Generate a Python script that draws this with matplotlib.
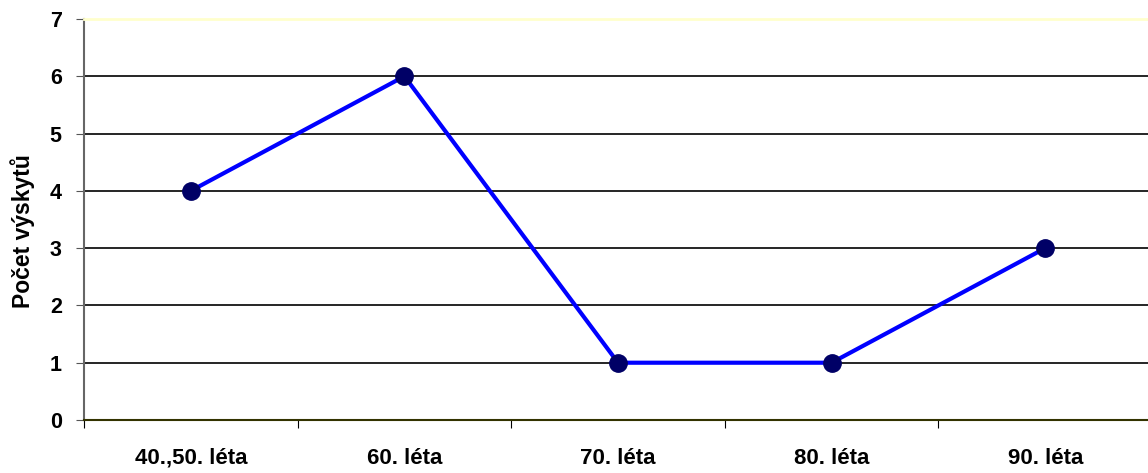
import matplotlib
matplotlib.use("Agg")
import matplotlib.pyplot as plt
import numpy as np

categories = ["40.,50. léta", "60. léta", "70. léta", "80. léta", "90. léta"]
values = [4, 6, 1, 1, 3]
y_ticks = [0, 1, 2, 3, 4, 5, 6, 7]

plt.rcParams['font.family'] = ['Liberation Sans', 'DejaVu Sans']

fig = plt.figure(figsize=(11.48, 4.73), dpi=100)
ax = fig.add_axes([84 / 1148, 1 - 420 / 473, (1152 - 84) / 1148, (420 - 19) / 473])

x = np.arange(len(categories)) + 0.5
ax.plot(x, values, color="#0000FF", lw=3, zorder=3, clip_on=False,
        marker="o", markersize=12.5, markerfacecolor="#000066",
        markeredgecolor="#000066")

ax.set_xlim(0, len(categories))
ax.set_ylim(0, 7)
ax.set_yticks(y_ticks)
ax.set_yticklabels([str(t) for t in y_ticks], fontsize=15.5, fontweight="bold")
ax.set_xticks(np.arange(len(categories) + 1))
ax.set_xticklabels([])
ax.set_xticks(x, minor=True)
ax.set_xticklabels(categories, minor=True, fontsize=16, fontweight="bold")
ax.tick_params(axis="x", which="minor", length=0, pad=20)
ax.tick_params(axis="x", which="major", length=6, direction="out", color="black")
ax.tick_params(axis="y", length=6, direction="out", color="#555555", pad=10)

for t in y_ticks[1:-1]:
    ax.axhline(t, color="black", lw=1.2, zorder=1)

ax.spines["top"].set_color("#FFFFCC")
ax.spines["top"].set_linewidth(2)
ax.spines["right"].set_visible(False)
ax.spines["left"].set_color("#666666")
ax.spines["left"].set_linewidth(1.5)
ax.spines["bottom"].set_color("#333300")
ax.spines["bottom"].set_linewidth(1.5)

ax.set_ylabel("Počet výskytů", fontsize=16.5, fontweight="bold")
ax.yaxis.set_label_coords(-0.046, 0.47)

fig.savefig("out.png", dpi=100)
